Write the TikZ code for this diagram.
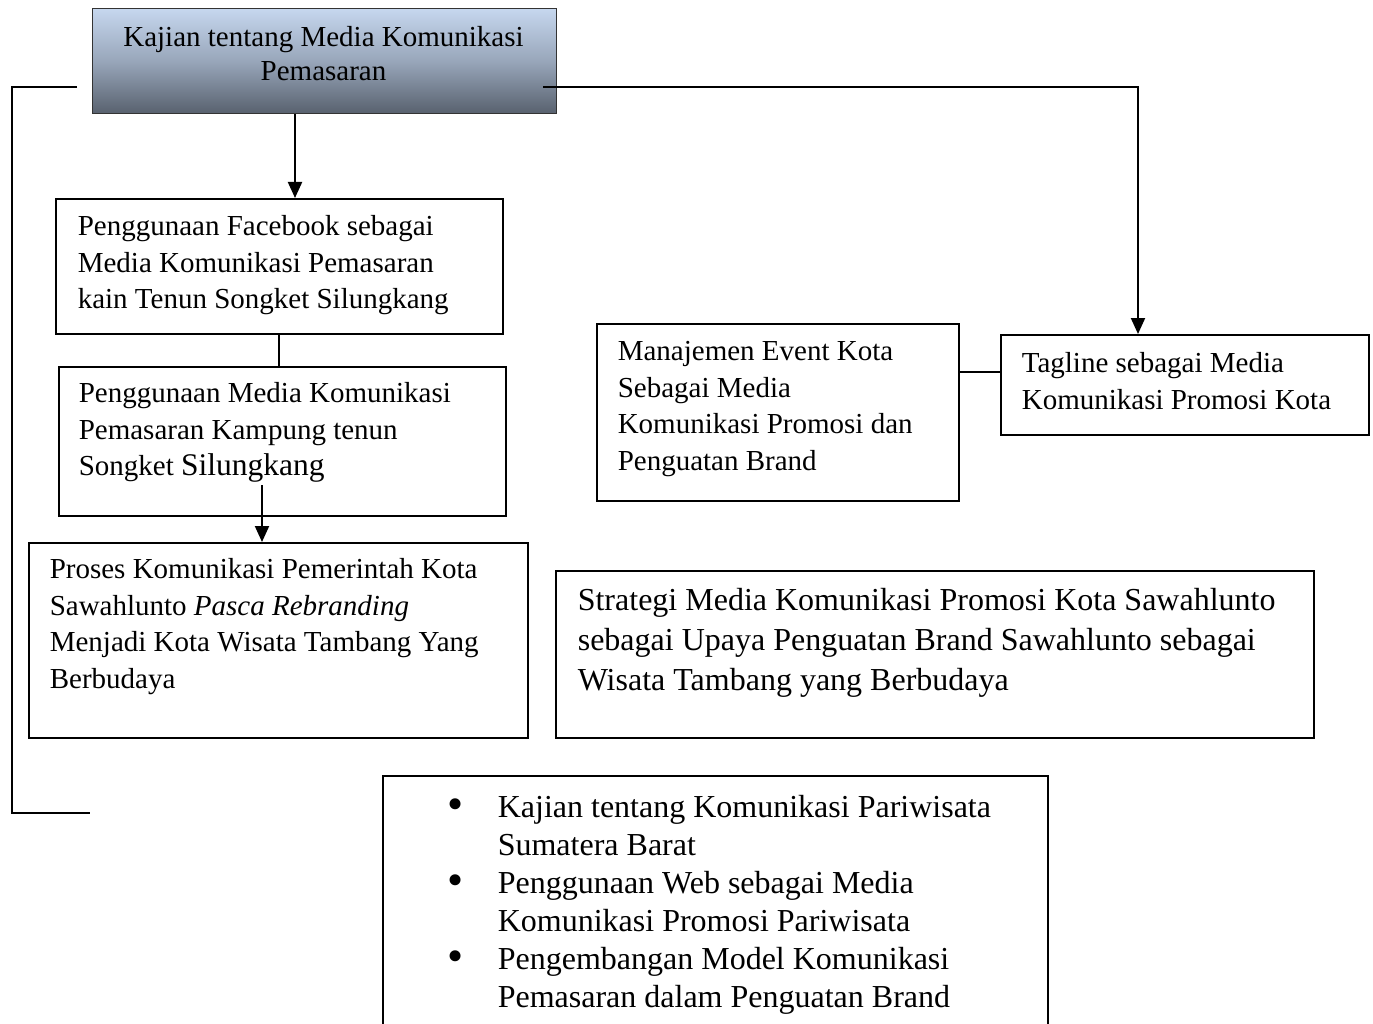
\documentclass[tikz,border=0pt]{standalone}
\usepackage{fontspec}
\setmainfont{Liberation Serif}
\usetikzlibrary{arrows.meta}

\definecolor{topcol}{RGB}{198,215,238}
\definecolor{midcol}{RGB}{152,166,186}
\definecolor{botcol}{RGB}{88,97,110}

\tikzset{
  plainbox/.style={draw=black, line width=1.6pt, fill=white},
  link/.style={draw=black, line width=2pt},
  arrowlink/.style={link, -{Triangle[length=16pt,width=14pt]}},
}

% box with top-left corner (x1,y1), bottom-right corner (x2,y2), padding and text
\newcommand\mkbox[9]{%
  \pgfmathsetmacro\bw{#4-#2-2*#6}%
  \pgfmathsetmacro\bh{#5-#3-2*#7}%
  \node[plainbox, inner xsep=#6pt, inner ysep=#7pt, anchor=north west] (#1) at (#2,#3)
    {#8\begin{minipage}[c][\bh pt][t]{\bw pt}\raggedright\strut #9\end{minipage}};%
}
\newcommand\smallfont{\fontsize{29}{36.5}\selectfont}
\newcommand\bigfont{\fontsize{32}{40}\selectfont}
\newcommand\listfont{\fontsize{32}{38}\selectfont}
\newcommand\bul{\hspace*{-48pt}\makebox[48pt][l]{\hspace*{-2pt}\raisebox{-2.5pt}{\fontsize{46}{38}\selectfont\textbullet}}}

\begin{document}
\begin{tikzpicture}[x=1pt, y=-1pt]
  \useasboundingbox[fill=white] (0,0) rectangle (1373,1024);

  % heading box with gradient
  \node[draw=black!80, line width=1.3pt, top color=topcol, bottom color=botcol, middle color=midcol,
        minimum width=464pt, minimum height=105pt, anchor=north west, align=center,
        font=\smallfont, inner sep=0pt] (top) at (92,8) {};
  \node[font=\smallfont, align=center, inner sep=0pt, anchor=base] (toptext) at (323.5,81)
        {Kajian tentang Media Komunikasi\\[-2pt] Pemasaran};

  \mkbox{fb}{55}{198}{502}{333}{22}{11.5}{\smallfont}{%
    Penggunaan Facebook sebagai\\Media Komunikasi Pemasaran\\kain Tenun Songket Silungkang}
  \mkbox{kampung}{58}{366}{505}{515}{20}{10.5}{\smallfont}{%
    Penggunaan Media Komunikasi\\Pemasaran Kampung tenun\\Songket {\fontsize{31.5}{36.5}\selectfont Silungkang}}
  \mkbox{proses}{28}{542}{527}{737}{21}{10.5}{\smallfont}{%
    Proses Komunikasi Pemerintah Kota\\Sawahlunto \textit{Pasca Rebranding}\\Menjadi Kota Wisata Tambang Yang\\Berbudaya}
  \mkbox{event}{596}{323}{958}{500}{21}{11.5}{\smallfont}{%
    Manajemen Event Kota\\Sebagai Media\\Komunikasi Promosi dan\\Penguatan Brand}
  \mkbox{tagline}{1000}{334}{1368}{434}{21}{12.5}{\smallfont}{%
    Tagline sebagai Media\\Komunikasi Promosi Kota}
  \mkbox{strategi}{555}{570}{1313}{737}{22}{12}{\bigfont}{%
    Strategi Media Komunikasi Promosi Kota Sawahlunto\\sebagai Upaya Penguatan Brand Sawahlunto sebagai\\Wisata Tambang yang Berbudaya}
  \mkbox{kajian}{382}{775}{1047}{1045}{20}{15}{\listfont}{%
    \leftskip=95pt
    \bul Kajian tentang Komunikasi Pariwisata\\Sumatera Barat\\
    \bul Penggunaan Web sebagai Media\\Komunikasi Promosi Pariwisata\\
    \bul Pengembangan Model Komunikasi\\Pemasaran dalam Penguatan Brand}

  % connector anchor points
  \coordinate (downx) at (295,0);
  \coordinate (kampx) at (262,0);
  \coordinate (kampstart) at (262,485);
  \coordinate (rightx) at (1138,0);
  \coordinate (rstart) at (543,87);
  \coordinate (lstart) at (77,87);
  \coordinate (lcorner) at (12,87);
  \coordinate (lbottom) at (12,813);
  \coordinate (lend) at (90,813);
  \coordinate (evy) at (0,372);

  % connectors
  \draw[arrowlink] (top.south -| downx) -- (fb.north -| downx);
  \draw[link] (fb.south) -- (kampung.north -| fb.south);
  \draw[arrowlink] (kampstart) -- (proses.north -| kampx);
  \draw[arrowlink] (rstart) -- (rstart -| rightx) -- (tagline.north -| rightx);
  \draw[link] (event.east |- evy) -- (tagline.west |- evy);
  \draw[link] (lstart) -- (lcorner) -- (lbottom) -- (lend);
\end{tikzpicture}
\end{document}
